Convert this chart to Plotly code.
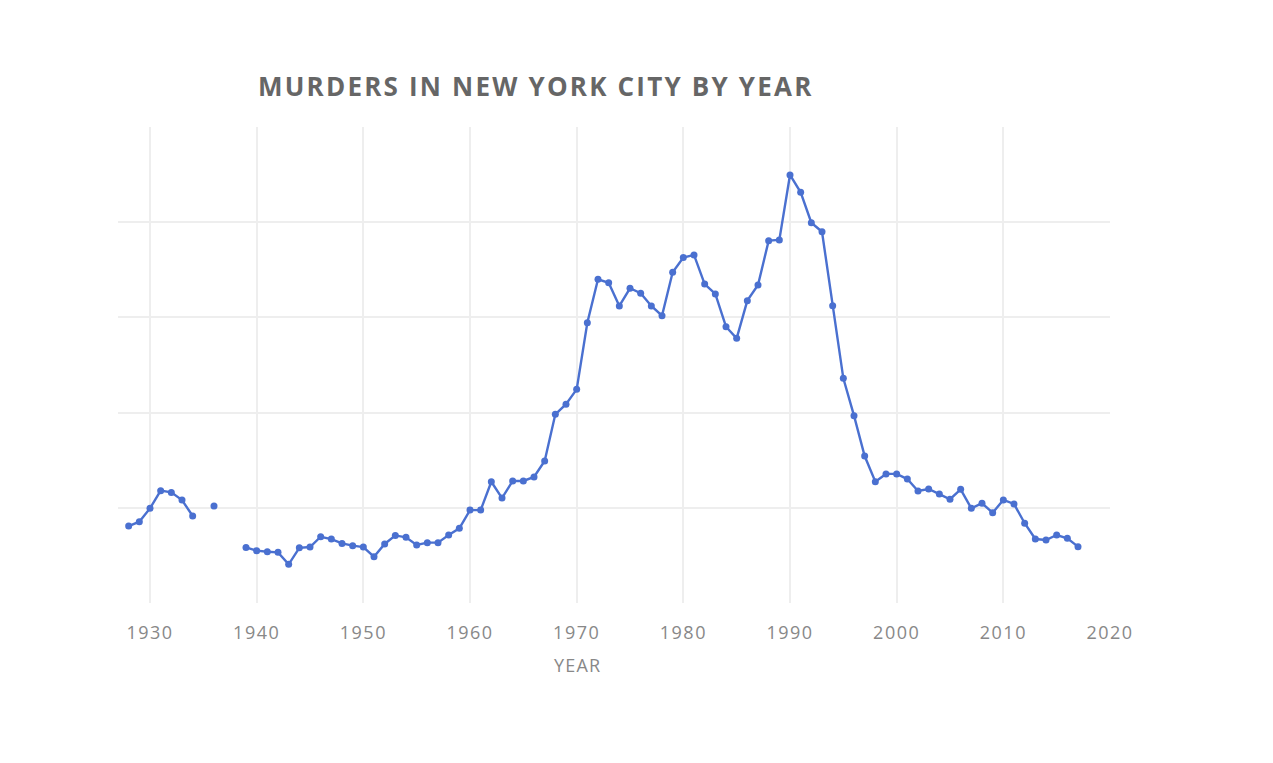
import plotly.graph_objects as go

years = list(range(1928, 2018))
murders = [
    404, 427, 497, 590, 581, 541, 457, None, 509, None, None,  # 1928-1938
    292, 275, 269, 266, 203, 290, 294, 348, 336, 313, 301,    # 1939-1949
    294, 243, 310, 355, 345, 305, 317, 317, 357, 392,         # 1950-1959
    488, 488, 637, 551, 641, 641, 662, 746, 991, 1044,        # 1960-1969
    1122, 1472, 1700, 1682, 1560, 1653, 1627, 1560, 1509, 1737,  # 1970-1979
    1814, 1828, 1675, 1623, 1451, 1390, 1588, 1670, 1903, 1907,  # 1980-1989
    2248, 2157, 1997, 1950, 1561, 1180, 984, 772, 637, 678,   # 1990-1999
    678, 651, 588, 599, 572, 545, 597, 497, 524, 474,         # 2000-2009
    541, 520, 419, 336, 331, 357, 340, 296,                   # 2010-2017
]

x_ticks = [1930, 1940, 1950, 1960, 1970, 1980, 1990, 2000, 2010, 2020]
tick_labels = [str(t) for t in x_ticks]

fig = go.Figure()
fig.add_trace(go.Scatter(
    x=years, y=murders, mode="lines+markers",
    line=dict(color="#4a70d0", width=2.4),
    marker=dict(color="#4a70d0", size=7),
    connectgaps=False, showlegend=False,
))

fig.update_layout(
    width=1273, height=763,
    paper_bgcolor="white", plot_bgcolor="white",
    margin=dict(l=110, r=171, t=119, b=168),
    title=dict(
        text='<span style="letter-spacing:2.2px"><b>MURDERS IN NEW YORK CITY BY YEAR</b></span>',
        x=250/1273, xanchor="left", xref="container",
        y=1-79/763, yanchor="middle", yref="container",
        font=dict(family="Open Sans", size=26, color="#666666"),
    ),
    font=dict(family="Open Sans", color="#888888"),
    annotations=[dict(
        text='<span style="letter-spacing:1.2px">YEAR</span>',
        xref="paper", yref="paper",
        x=(569 - 110) / 992, y=-(657 - 595) / 476,
        xanchor="center", yanchor="middle", showarrow=False,
        font=dict(family="Open Sans", size=18, color="#888888"),
    )],
)
fig.update_xaxes(
    range=[1927, 2020], tickvals=x_ticks,
    ticktext=['<span style="letter-spacing:1.5px">%s</span>' % t for t in tick_labels],
    showgrid=True, gridcolor="#eeeeee", gridwidth=1.5, zeroline=False,
    showline=False, tickfont=dict(size=18, color="#888888"),
    ticklabelstandoff=17,
    ticks="", ticklen=0,
)
fig.update_yaxes(
    range=[0, 2500], dtick=500, showticklabels=False,
    showgrid=True, gridcolor="#eeeeee", gridwidth=1.5, zeroline=False,
    showline=False,
)

fig.write_html("out.html")
